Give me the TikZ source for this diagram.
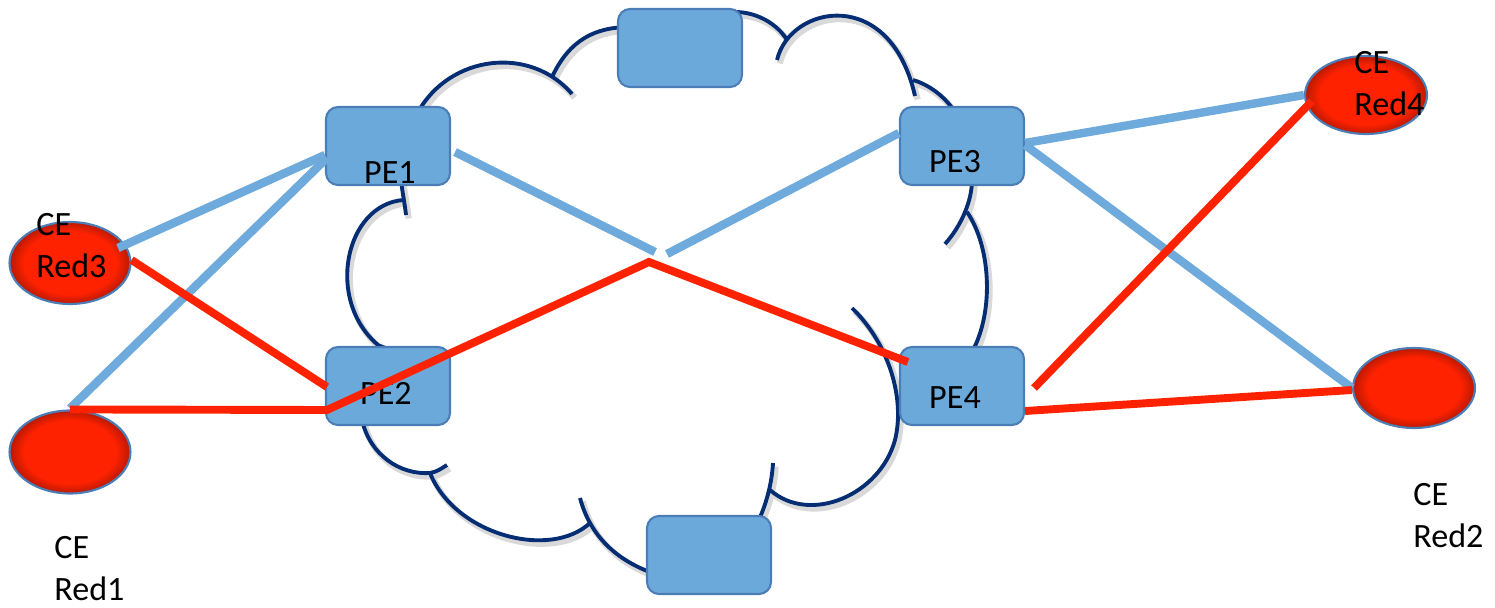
\documentclass[tikz,border=0pt]{standalone}
\usepackage{fontspec}
\setmainfont{Carlito}
\usepackage{tikz}
\usetikzlibrary{shapes.geometric, calc}

\definecolor{boxblue}{RGB}{108,169,219}
\definecolor{boxedge}{RGB}{75,125,182}
\definecolor{linkblue}{RGB}{110,170,220}
\definecolor{linkred}{RGB}{255,34,0}
\definecolor{cedark}{RGB}{185,25,0}
\definecolor{cloudnavy}{RGB}{5,45,115}
\pgfdeclareradialshading{ceball}{\pgfpoint{0bp}{0bp}}{color(0bp)=(linkred); color(19bp)=(linkred); color(25bp)=(cedark); color(50bp)=(cedark)}

\tikzset{
  pebox/.style={draw=boxedge, line width=1.2pt, fill=boxblue, rounded corners=0.24cm,
    minimum width=2.48cm, minimum height=1.56cm, inner sep=0pt},
  cenode/.style={ellipse, draw=boxedge, line width=1.2pt, shade, shading=ceball, inner sep=0pt},
  lbl/.style={font=\fontsize{19.4pt}{23.8pt}\selectfont, inner sep=0pt},
  bluelink/.style={draw=linkblue, line width=4.8pt},
  redlink/.style={draw=linkred, line width=4.5pt},
  cloudline/.style={draw=cloudnavy, line width=2.2pt,
    preaction={draw=black!15, line width=3.5pt, transform canvas={shift={(1.5pt,-2pt)}}}}
}

\begin{document}
\begin{tikzpicture}[x=0.02cm, y=-0.02cm]
\useasboundingbox (0,0) rectangle (1495,608);

% cloud outline
\draw[cloudline]
  (418,112) .. controls (450,55) and (530,45) .. (572,94)
  (553,75) .. controls (570,40) and (595,27) .. (630,27)
  (735,12) .. controls (758,12) and (778,25) .. (787,40)
  (777,60) .. controls (790,5) and (890,-15) .. (915,96)
  (913,80) .. controls (930,85) and (945,97) .. (955,112)
  (972,180) .. controls (972,200) and (962,225) .. (945,244)
  (967,212) .. controls (990,245) and (995,310) .. (972,352)
  (852,308) .. controls (890,345) and (905,400) .. (895,440) .. controls (880,495) and (810,525) .. (770,490)
  (773,463) .. controls (772,480) and (768,500) .. (758,522)
  (362,420) .. controls (370,455) and (400,475) .. (430,473) .. controls (437,472) and (442,468) .. (447,465)
  (430,473) .. controls (455,535) and (550,560) .. (590,523)
  (580,498) .. controls (590,535) and (615,560) .. (655,574)
  (401,180) .. controls (402,190) and (405,205) .. (406,215)
  (403,200) .. controls (345,205) and (325,300) .. (378,345) .. controls (382,347) and (386,348) .. (392,350);

% routers
\node[pebox] (pe1) at (388,146) {};
\node[pebox] (pe3) at (962,146) {};
\node[pebox] (pe2) at (388,386) {};
\node[pebox] (pe4) at (962,386) {};
\node[pebox] (ptop) at (680,48) {};
\node[pebox] (pbot) at (709,555) {};
\node[lbl, anchor=base] (pe1txt) at (390,183) {PE1};
\node[lbl, anchor=base] (pe3txt) at (955,173) {PE3};
\node[lbl, anchor=base] (pe2txt) at (386,404) {PE2};
\node[lbl, anchor=base] (pe4txt) at (955,408) {PE4};

% customer edges
\node[cenode, minimum width=2.42cm, minimum height=1.64cm] (ce3) at (70,263) {};
\node[cenode, minimum width=2.42cm, minimum height=1.66cm] (ce1) at (70,452) {};
\node[cenode, minimum width=2.44cm, minimum height=1.56cm] (ce4) at (1366,95) {};
\node[cenode, minimum width=2.44cm, minimum height=1.6cm] (ce2) at (1414,388) {};

\coordinate (gapl) at (655,252);
\coordinate (gapr) at (667,254);
\coordinate (apex) at (649,262);

% blue links
\draw[bluelink] ($(ce3.center)+(48,-15)$) -- ($(pe1.west)+(0,9)$);
\draw[bluelink] ($(ce1.north)+(0,-1)$) -- ($(pe1.west)+(2,12)$);
\draw[bluelink] ($(pe1.east)+(4,6)$) -- (gapl);
\draw[bluelink] ($(pe3.west)+(0,-13)$) -- (gapr);
\draw[bluelink] ($(pe3.east)+(0,-3)$) -- (ce4.west);
\draw[bluelink] ($(pe3.east)+(0,-1)$) -- (ce2.west);

% red links
\draw[redlink] ($(ce3.east)+(0,-3)$) -- ($(pe2.west)+(2,1)$);
\draw[redlink] (ce1.north) -- ($(pe2.west)+(2,24)$) -- (apex) -- ($(pe4.west)+(9,-24)$);
\draw[redlink] ($(pe4.east)+(9,2)$) -- ($(ce4.west)+(8,6)$);
\draw[redlink] ($(pe4.east)+(0,25)$) -- ($(ce2.west)+(0,2)$);

% labels
\node[lbl, anchor=base west, align=left] (ce3txt) at (36,277) {CE\\Red3};
\node[lbl, anchor=base west, align=left] (ce1txt) at (54,600) {CE\\Red1};
\node[lbl, anchor=base west, align=left] (ce4txt) at (1354,115) {CE\\Red4};
\node[lbl, anchor=base west, align=left] (ce2txt) at (1413,547) {CE\\Red2};
\end{tikzpicture}
\end{document}
